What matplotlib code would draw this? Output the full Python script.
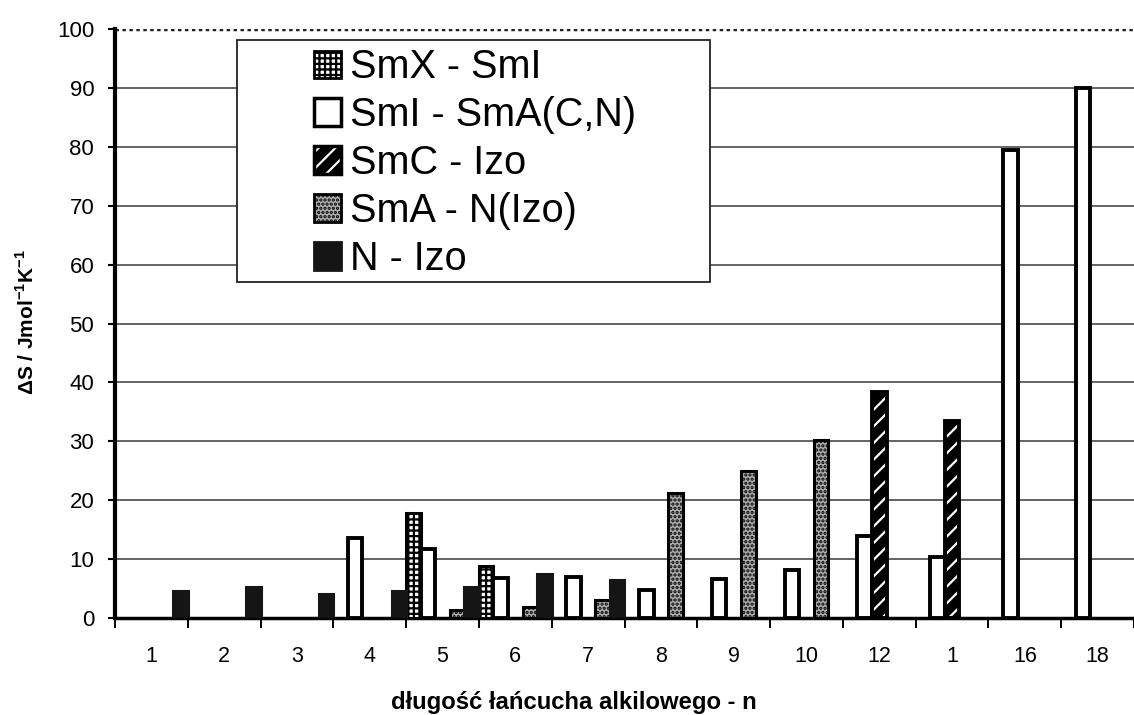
import numpy as np
import matplotlib.pyplot as plt
from matplotlib.patches import Patch, Rectangle

plt.rcParams['font.family'] = ['Liberation Sans', 'DejaVu Sans']
plt.rcParams['mathtext.fontset'] = 'custom'
plt.rcParams['mathtext.rm'] = 'Liberation Sans:bold'
plt.rcParams['mathtext.bf'] = 'Liberation Sans:bold'
plt.rcParams['hatch.linewidth'] = 1.6

# dane (nan = brak przejscia)
nan = np.nan
categories = ['1', '2', '3', '4', '5', '6', '7', '8', '9', '10', '12', '1', '16', '18']
smx_smi = [nan, nan, nan, nan, 17.8, 8.8, nan, nan, nan, nan, nan, nan, nan, nan]
smi_sma = [nan, nan, nan, 13.5, 11.7, 6.8, 6.9, 4.7, 6.7, 8.2, 14.0, 10.3, 79.4, 89.9]
smc_izo = [nan, nan, nan, nan, nan, nan, nan, nan, nan, nan, 38.3, 33.4, nan, nan]
sma_n = [nan, nan, nan, nan, 1.3, 1.8, 3.0, 21.2, 24.9, 30.2, nan, nan, nan, nan]
n_izo = [4.6, 5.2, 4.0, 4.5, 5.2, 7.5, 6.5, nan, nan, nan, nan, nan, nan, nan]
labels = ['SmX - SmI', 'SmI - SmA(C,N)', 'SmC - Izo', 'SmA - N(Izo)', 'N - Izo']

W, H = 1134, 715
fig = plt.figure(figsize=(W / 100, H / 100), dpi=100)
ax = fig.add_axes([115 / W, 1 - 618 / H, 1 - 115 / W, (618 - 29) / H])

x = np.arange(len(categories))
bw = 0.2
lw = 2.2

# SmX - SmI
ax.bar(x, smx_smi, bw, align='edge', facecolor='white', edgecolor='black',
       hatch='+++', linewidth=lw, zorder=3)
# SmI - SmA(C,N)
ax.bar(x + bw, smi_sma, bw, align='edge', facecolor='white', edgecolor='black',
       linewidth=lw + 0.6, zorder=3)
# SmC - Izo (bialy wzor na czarnym)
ax.bar(x + 2 * bw, smc_izo, bw, align='edge', facecolor='black', edgecolor='black',
       linewidth=0, zorder=3)
ax.bar(x + 2 * bw, smc_izo, bw, align='edge', facecolor='none', edgecolor='white',
       hatch='//', linewidth=0, zorder=3)
ax.bar(x + 2 * bw, smc_izo, bw, align='edge', facecolor='none', edgecolor='black',
       linewidth=lw + 0.6, zorder=3)
# SmA - N(Izo)
ax.bar(x + 3 * bw, sma_n, bw, align='edge', facecolor='#b0b0b0', edgecolor='black',
       hatch='....', linewidth=lw, zorder=3)
# N - Izo
ax.bar(x + 4 * bw, n_izo, bw, align='edge', facecolor='#151515', edgecolor='#151515',
       linewidth=lw, zorder=3)

ax.set_ylim(0, 100)
ax.set_xlim(0, (W - 115) / 73.5)
ax.set_yticks(np.arange(0, 101, 10))
for v in range(10, 100, 10):
    ax.axhline(v, color='#4a4a4a', linewidth=1.2, zorder=1)
ax.axhline(100, color='#222222', linewidth=2.5, linestyle=(0, (1, 1)), zorder=1)

ax.set_xticks(np.arange(0, len(categories) + 1))
ax.set_xticklabels([])
ax.set_xticks(x + 0.5, minor=True)
ax.set_xticklabels(categories, minor=True)
ax.tick_params(axis='x', which='major', direction='out', length=7, width=1.4, color='black')
ax.tick_params(axis='x', which='minor', length=0, pad=20, labelsize=15.5)
ax.tick_params(axis='y', direction='out', length=5, width=1.5, labelsize=16, pad=10)

for s in ['top', 'right']:
    ax.spines[s].set_visible(False)
ax.spines['left'].set_linewidth(3)
ax.spines['bottom'].set_linewidth(2.5)

fig.text(27 / W, 1 - 322 / H, r'ΔS / Jmol$^{-1}$K$^{-1}$', rotation=90,
         ha='center', va='center', fontsize=15, fontweight='bold')
fig.text(574 / W, 1 - 702 / H, 'długość łańcucha alkilowego - n',
         ha='center', va='center', fontsize=17.2, fontweight='bold')

# ramka legendy
box = Rectangle((237 / W, 1 - 282 / H), 473 / W, 242 / H, transform=fig.transFigure,
                facecolor='white', edgecolor='#222222', linewidth=1.3, zorder=4)
ax.add_artist(box)
box.set_clip_on(False)

handles = [
    Patch(facecolor='white', edgecolor='black', hatch='+++', linewidth=2),
    Patch(facecolor='white', edgecolor='black', linewidth=2.5),
    (Patch(facecolor='black', edgecolor='black', linewidth=0),
     Patch(facecolor='none', edgecolor='white', hatch='//', linewidth=0),
     Patch(facecolor='none', edgecolor='black', linewidth=2.5)),
    Patch(facecolor='#b0b0b0', edgecolor='black', hatch='....', linewidth=2),
    Patch(facecolor='#151515', edgecolor='#151515', linewidth=2),
]
leg = ax.legend(handles, labels, loc='center', bbox_to_anchor=(475 / W, 1 - 163 / H),
                bbox_transform=fig.transFigure, frameon=False, fontsize=28.5,
                handlelength=0.7, handleheight=0.7, handletextpad=0.22,
                labelspacing=0.25, borderpad=0)
leg.set_zorder(5)

fig.savefig('out.png', dpi=100)
